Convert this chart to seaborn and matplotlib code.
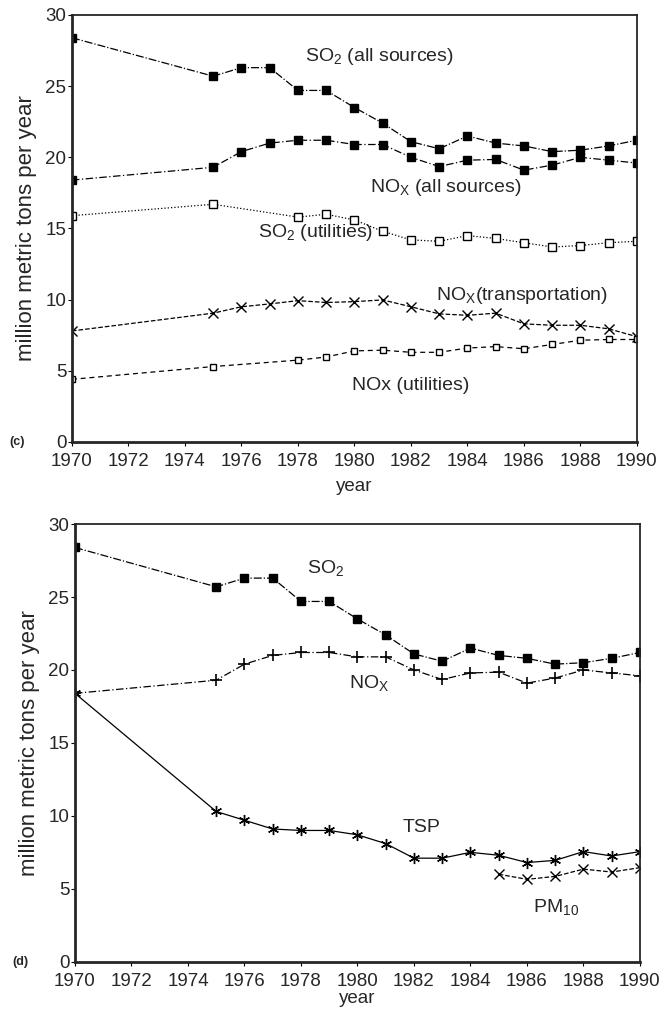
import pandas as pd
import matplotlib
matplotlib.use("Agg")
import matplotlib.pyplot as plt
import seaborn as sns

# ===============================
# Emission trends 1970-1990, panels (c) and (d)
# ===============================

years = [1970, 1975, 1976, 1977, 1978, 1979, 1980, 1981, 1982,
         1983, 1984, 1985, 1986, 1987, 1988, 1989, 1990]
years_util = [1970, 1975, 1978, 1979, 1980, 1981, 1982,
              1983, 1984, 1985, 1986, 1987, 1988, 1989, 1990]
years_pm10 = [1985, 1986, 1987, 1988, 1989, 1990]

so2_all = [28.4, 25.7, 26.3, 26.3, 24.7, 24.7, 23.5, 22.4, 21.1,
           20.6, 21.5, 21.0, 20.8, 20.4, 20.5, 20.8, 21.2]
nox_all = [18.4, 19.3, 20.4, 21.0, 21.2, 21.2, 20.9, 20.9, 20.0,
           19.35, 19.8, 19.85, 19.1, 19.45, 20.0, 19.8, 19.6]
so2_util = [15.9, 16.7, 15.8, 16.0, 15.6, 14.8, 14.2, 14.1, 14.5,
            14.3, 14.0, 13.7, 13.8, 14.0, 14.1]
nox_trans = [7.8, 9.05, 9.5, 9.7, 9.93, 9.8, 9.86, 9.98, 9.5,
             9.0, 8.9, 9.05, 8.3, 8.2, 8.2, 7.95, 7.4]
nox_util = [4.4, 5.3, 5.75, 5.97, 6.4, 6.45, 6.3, 6.3, 6.6,
            6.7, 6.55, 6.85, 7.15, 7.2, 7.2]
tsp = [18.4, 10.3, 9.7, 9.1, 9.0, 9.0, 8.7, 8.1, 7.1,
       7.1, 7.5, 7.3, 6.8, 6.95, 7.55, 7.25, 7.55]
pm10 = [6.0, 5.65, 5.85, 6.35, 6.15, 6.45]

sns.set_style("ticks")
plt.rcParams["font.family"] = ["Liberation Sans", "DejaVu Sans"]
plt.rcParams["mathtext.fontset"] = "custom"
plt.rcParams["mathtext.rm"] = "Liberation Sans"
plt.rcParams["mathtext.it"] = "Liberation Sans"

fig = plt.figure(figsize=(6.6, 10.13), dpi=100)
ax_c = fig.add_axes([0.109, 0.5637, 0.856, 0.4215])
ax_d = fig.add_axes([0.1136, 0.0506, 0.856, 0.432])


def draw(ax, x, y, marker, ls, ms=5.5, mfc="black", mew=1.0):
    sns.lineplot(x=x, y=y, ax=ax, color="black", marker=marker,
                 linestyle=ls, linewidth=0.9, markersize=ms,
                 markerfacecolor=mfc, markeredgecolor="black",
                 markeredgewidth=mew)


def style_axes(ax, tag, xpad, xlabelpad):
    ax.set_xlim(1970, 1990)
    ax.set_ylim(0, 30)
    ax.set_xticks(range(1970, 1991, 2))
    ax.set_yticks(range(0, 31, 5))
    ax.tick_params(direction="out", length=3, width=0.8, labelsize=13.5,
                   color="black")
    ax.tick_params(axis="x", pad=xpad)
    ax.tick_params(axis="y", pad=1)
    for side in ["left", "bottom"]:
        ax.spines[side].set_linewidth(2.0)
    for side in ["top", "right"]:
        ax.spines[side].set_linewidth(1.3)
        ax.spines[side].set_visible(True)
    ax.set_xlabel("year", fontsize=13.5, labelpad=xlabelpad)
    ax.set_ylabel("million metric tons per year", fontsize=16, labelpad=6)
    ax.text(-0.11, 0.0, tag, transform=ax.transAxes, fontsize=9,
            fontweight="bold", va="center", ha="left")


# ----------------------------------------------------
# (c) SO2 and NOx by source
# ----------------------------------------------------
draw(ax_c, years, so2_all, "s", "-.")
draw(ax_c, years, nox_all, "s", (0, (6, 2, 1, 2)))
draw(ax_c, years_util, so2_util, "s", ":", mfc="white")
draw(ax_c, years, nox_trans, "x", "--", ms=7)
draw(ax_c, years_util, nox_util, "s", (0, (4, 3)), ms=5, mfc="white")

ax_c.text(1978.25, 27.05, "SO$_2$ (all sources)", fontsize=14, va="center")
ax_c.text(1980.55, 17.9, "NO$_X$ (all sources)", fontsize=14, va="center")
ax_c.text(1976.6, 14.75, "SO$_2$ (utilities)", fontsize=14, va="center")
ax_c.text(1982.9, 10.3, "NO$_X$(transportation)", fontsize=14, va="center")
ax_c.text(1979.9, 4.0, "NOx (utilities)", fontsize=14, va="center")
style_axes(ax_c, "(c)", xpad=5, xlabelpad=6)

# ----------------------------------------------------
# (d) SO2, NOx, TSP, PM10 totals
# ----------------------------------------------------
draw(ax_d, years, so2_all, "s", "-.")
draw(ax_d, years, nox_all, "+", (0, (6, 2, 1, 2)), ms=8, mew=1.2)
draw(ax_d, years, tsp, (6, 2, 0), "-", ms=8, mew=1.0)
draw(ax_d, years_pm10, pm10, "x", "--", ms=7)

ax_d.text(1978.2, 27.0, "SO$_2$", fontsize=14, va="center")
ax_d.text(1979.7, 19.1, "NO$_X$", fontsize=14, va="center")
ax_d.text(1981.6, 9.2, "TSP", fontsize=14, va="center")
ax_d.text(1986.2, 3.75, "PM$_{10}$", fontsize=14, va="center")
style_axes(ax_d, "(d)", xpad=5, xlabelpad=0)

fig.savefig("out.png", dpi=100)
plt.close(fig)
